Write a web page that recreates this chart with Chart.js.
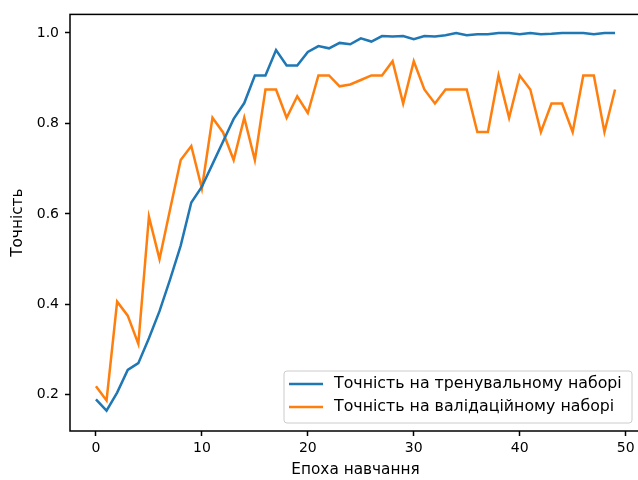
<!DOCTYPE html>
<html>
<head>
<meta charset="utf-8">
<script src="https://cdn.jsdelivr.net/npm/chart.js@4.4.0/dist/chart.umd.min.js"></script>
<style>
    body { margin: 0; background: #fff; overflow: hidden; }
    #wrap { width: 638px; height: 480px; overflow: hidden; }
</style>
</head>
<body>
<div id="wrap"><canvas id="myChart" width="643" height="480"></canvas></div>
<script>
const epochs = [0, 1, 2, 3, 4, 5, 6, 7, 8, 9,
    10, 11, 12, 13, 14, 15, 16, 17, 18, 19,
    20, 21, 22, 23, 24, 25, 26, 27, 28, 29,
    30, 31, 32, 33, 34, 35, 36, 37, 38, 39,
    40, 41, 42, 43, 44, 45, 46, 47, 48, 49];

const trainAcc = [0.19, 0.165, 0.205, 0.255, 0.27, 0.325, 0.385, 0.455, 0.53, 0.625,
    0.66, 0.71, 0.76, 0.81, 0.845, 0.906, 0.906, 0.962, 0.928, 0.928,
    0.958, 0.971, 0.966, 0.978, 0.975, 0.988, 0.981, 0.993, 0.992, 0.993,
    0.986, 0.993, 0.992, 0.995, 1.0, 0.995, 0.997, 0.997, 1.0, 1.0,
    0.997, 1.0, 0.997, 0.998, 1.0, 1.0, 1.0, 0.997, 1.0, 1.0];

const valAcc = [0.219, 0.1875, 0.406, 0.375, 0.3125, 0.594, 0.5, 0.61, 0.719, 0.75,
    0.656, 0.8125, 0.78, 0.719, 0.8125, 0.719, 0.875, 0.875, 0.8125, 0.86,
    0.823, 0.906, 0.906, 0.882, 0.886, 0.896, 0.906, 0.906, 0.9375, 0.844,
    0.9375, 0.875, 0.844, 0.875, 0.875, 0.875, 0.781, 0.781, 0.906, 0.8125,
    0.906, 0.875, 0.781, 0.844, 0.844, 0.781, 0.906, 0.906, 0.781, 0.875];

const xTicks = [0, 10, 20, 30, 40, 50];
const yTicks = [0.2, 0.4, 0.6, 0.8, 1.0];

const seriesNames = ['Точність на тренувальному наборі', 'Точність на валідаційному наборі'];
const xTitle = 'Епоха навчання';
const yTitle = 'Точність';

Chart.defaults.font.family = 'DejaVu Sans';
Chart.defaults.font.size = 14;
Chart.defaults.color = '#000';

function toPoints(values) {
    return epochs.map((e, i) => ({ x: e, y: values[i] }));
}

// frame around the plot + legend box in lower right, like matplotlib
const framePlugin = {
    id: 'frame',
    afterDraw(chart) {
        const ctx = chart.ctx;
        const a = chart.chartArea;
        ctx.save();
        ctx.strokeStyle = '#000';
        ctx.lineWidth = 1.5;
        ctx.strokeRect(a.left, a.top, a.right - a.left, a.bottom - a.top);

        let boxW = 348, boxH = 52;
        let boxR = a.right - 9, boxB = a.bottom - 8;
        let boxL = boxR - boxW, boxT = boxB - boxH;
        ctx.beginPath();
        ctx.roundRect(boxL, boxT, boxW, boxH, 3);
        ctx.fillStyle = 'rgba(255,255,255,0.8)';
        ctx.fill();
        ctx.strokeStyle = '#cccccc';
        ctx.lineWidth = 1;
        ctx.stroke();

        ctx.font = '15.8px "DejaVu Sans"';
        ctx.textBaseline = 'middle';
        chart.data.datasets.forEach((ds, i) => {
            let y = boxT + 13 + i * 23;
            ctx.beginPath();
            ctx.moveTo(boxL + 5, y);
            ctx.lineTo(boxL + 39, y);
            ctx.strokeStyle = ds.borderColor;
            ctx.lineWidth = 2.5;
            ctx.stroke();
            ctx.fillStyle = '#000';
            ctx.fillText(ds.label, boxL + 50, y);
        });
        ctx.restore();
    }
};

new Chart('myChart', {
    type: 'line',
    data: {
        datasets: [{
            label: seriesNames[0],
            data: toPoints(trainAcc),
            borderColor: '#1f77b4',
            borderWidth: 2.5,
            pointRadius: 0,
            tension: 0
        }, {
            label: seriesNames[1],
            data: toPoints(valAcc),
            borderColor: '#ff7f0e',
            borderWidth: 2.5,
            pointRadius: 0,
            tension: 0
        }]
    },
    options: {
        responsive: false,
        animation: false,
        layout: { padding: { top: 11, right: 2, left: 0, bottom: 0 } },
        plugins: {
            legend: { display: false },
            tooltip: { enabled: false }
        },
        scales: {
            x: {
                type: 'linear',
                min: -2.45,
                max: 51.45,
                afterBuildTicks: (ax) => { ax.ticks = xTicks.map(v => ({ value: v })); },
                afterFit: (ax) => { ax.height = 49; },
                grid: { drawOnChartArea: false, color: '#000', tickLength: 5, tickWidth: 1.5 },
                border: { display: false },
                ticks: { padding: 4, maxRotation: 0, callback: (v) => String(v) },
                title: { display: true, text: xTitle, font: { size: 15.3 }, padding: { top: 0, bottom: 1 } }
            },
            y: {
                min: 0.12,
                max: 1.041,
                afterBuildTicks: (ax) => { ax.ticks = yTicks.map(v => ({ value: v })); },
                afterFit: (ax) => { ax.width = 70; },
                grid: { drawOnChartArea: false, color: '#000', tickLength: 5, tickWidth: 1.5 },
                border: { display: false },
                ticks: { padding: 6, callback: (v) => v.toFixed(1) },
                title: { display: true, text: yTitle, font: { size: 15.3 }, padding: { top: 9, bottom: 0 } }
            }
        }
    },
    plugins: [framePlugin]
});
</script>
</body>
</html>
